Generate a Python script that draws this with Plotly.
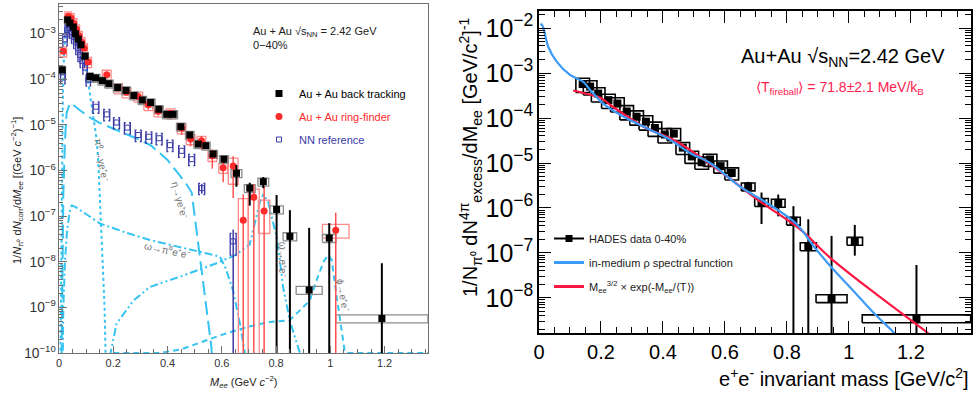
import plotly.graph_objects as go

# ---------------- LEFT PANEL DATA ----------------
# Au + Au back tracking
bt_m = [0.012, 0.032, 0.040, 0.053, 0.061, 0.071, 0.081, 0.096, 0.114, 0.135, 0.160, 0.184, 0.216, 0.247,
        0.276, 0.307, 0.338, 0.368, 0.397, 0.421, 0.449, 0.482, 0.513, 0.541, 0.568, 0.608, 0.654, 0.703,
        0.753, 0.802, 0.851, 0.922, 0.996, 1.19]
bt_y = [1.6e-4, 2.0e-3, 1.7e-3, 1.4e-3, 1.0e-3, 7.6e-4, 5.7e-4, 3.2e-4, 1.15e-4, 1.07e-4, 9.3e-5, 8.0e-5,
        6.6e-5, 5.7e-5, 4.4e-5, 3.5e-5, 3.1e-5, 2.2e-5, 1.7e-5, 1.7e-5, 9.1e-6, 6.0e-6, 3.8e-6, 3.5e-6,
        2.3e-6, 1.77e-6, 8.7e-7, 4.1e-7, 5.7e-7, 1.4e-7, 3.6e-8, 2.4e-9, 3.3e-8, 5.7e-10]
bt_eup = [0]*20 + [7e-7, 5e-7, 3e-7, 3e-7, 2e-7, 3e-7, 4.5e-7, 1.3e-7, 1.5e-7, 1.5e-7, 9.9e-8, 5.3e-8, 3.7e-8, 8.7e-9]
bt_edn = [0]*20 + [7e-7, 5e-7, 3e-7, 3e-7, 2e-7, 3e-7, 4.3e-7, 2.4e-7, 1.6e-7, 1.4e-7, 3.6e-8, 2.4e-9, 3.3e-8, 5.7e-10]
bt_hw = [0.012]*9 + [0.016]*17 + [0.02, 0.02, 0.02, 0.025, 0.025, 0.048, 0.025, 0.17]
bt_sys = [0.2]*34

# Au + Au ring-finder
rf_m = [0.016, 0.034, 0.044, 0.054, 0.064, 0.074, 0.084, 0.093, 0.108, 0.176, 0.218, 0.249, 0.292, 0.329,
        0.366, 0.411, 0.452, 0.485, 0.525, 0.565, 0.605, 0.642, 0.679, 0.718, 0.756, 1.02]
rf_y = [4.1e-4, 2.4e-3, 2.2e-3, 1.7e-3, 1.25e-3, 9.0e-4, 6.5e-4, 4.8e-4, 2.4e-4, 1.26e-4, 6.4e-5, 5.2e-5,
        4.2e-5, 2.75e-5, 2.0e-5, 1.8e-5, 8.5e-6, 4.9e-6, 4.5e-6, 2.1e-6, 1.15e-6, 1.25e-6, 8.1e-8, 2.6e-7,
        1.3e-7, 4.9e-8]
rf_eup = [0]*9 + [1.5e-5, 6e-6, 4e-6, 5e-6, 4e-6, 3e-6, 3e-6, 2e-6, 1.2e-6, 1.2e-6, 8e-7, 5e-7, 8e-7,
                  2.2e-7, 2.4e-7, 3.2e-7, 7e-8]
rf_edn = [0]*9 + [1.5e-5, 6e-6, 4e-6, 5e-6, 6e-6, 4e-6, 3e-6, 2.5e-6, 1.5e-6, 1.5e-6, 1e-6, 6e-7, 1.0e-6,
                  8.1e-8, 2.6e-7, 1.3e-7, 4.9e-8]
rf_hw = [0.012]*9 + [0.016]*12 + [0.018, 0.018, 0.02, 0.021, 0.049]
rf_sup = [0.25]*21 + [0.5, 2.0, 0.5, 0.72, 0.35]
rf_sdn = [0.25]*21 + [0.6, 1.0, 1.0, 0.68, 0.33]

# NN reference
nn_m = [0.014, 0.022, 0.030, 0.038, 0.046, 0.054, 0.062, 0.070, 0.078, 0.086, 0.096, 0.108, 0.136, 0.176,
        0.212, 0.252, 0.292, 0.331, 0.369, 0.409, 0.452, 0.489, 0.526, 0.642]
nn_y = [1.1e-4, 7.5e-4, 1.2e-3, 1.3e-3, 1.1e-3, 8.5e-4, 6.5e-4, 4.8e-4, 3.4e-4, 2.5e-4, 1.8e-4, 9.8e-5,
        2.5e-5, 1.7e-5, 1.13e-5, 8.7e-6, 6.0e-6, 5.5e-6, 5.1e-6, 3.6e-6, 2.7e-6, 1.77e-6, 4.1e-7, 2.8e-8]
nn_eup = [0]*22 + [1e-7, 2.3e-8]
nn_edn = [0]*22 + [1e-7, 2.8e-8]
nn_hw = [0.008]*12 + [0.011]*12
nn_sys = [0.28]*23 + [0.5]

# cocktail curves (cyan)
pi0_m = [0.004, 0.008, 0.011, 0.014, 0.018, 0.024, 0.030, 0.036, 0.045, 0.055, 0.065, 0.075, 0.085, 0.096,
         0.104, 0.112, 0.120, 0.130, 0.139, 0.145, 0.151, 0.160, 0.168, 0.175]
pi0_y = [1e-11, 1e-8, 1e-6, 3e-5, 3e-4, 1.1e-3, 1.6e-3, 1.7e-3, 1.5e-3, 1.2e-3, 8.5e-4, 6e-4, 4e-4, 2.5e-4,
         1.2e-4, 5.5e-5, 2.6e-5, 9e-6, 4.7e-6, 1.5e-6, 2.2e-7, 2e-8, 1e-9, 1e-11]
eta_m = [0.008, 0.012, 0.016, 0.022, 0.028, 0.040, 0.050, 0.077, 0.110, 0.151, 0.225, 0.298, 0.340, 0.372,
         0.400, 0.440, 0.470, 0.489, 0.507, 0.525, 0.544, 0.562, 0.570]
eta_y = [1e-11, 1e-8, 3e-7, 4.7e-6, 1.8e-5, 3.0e-5, 2.8e-5, 2.1e-5, 1.5e-5, 1.1e-5, 7.1e-6, 4.7e-6, 3.5e-6,
         2.4e-6, 1.7e-6, 8.5e-7, 5e-7, 3.3e-7, 5e-8, 7e-9, 9e-10, 1.3e-10, 1e-11]
omd_m = [0.012, 0.016, 0.022, 0.030, 0.040, 0.047, 0.060, 0.100, 0.151, 0.250, 0.335, 0.430, 0.519, 0.593,
         0.615, 0.642, 0.667, 0.685, 0.690]
omd_y = [1e-11, 1e-9, 1e-8, 5e-8, 1.3e-7, 1.7e-7, 1.6e-7, 1.1e-7, 6.9e-8, 4.3e-8, 3e-8, 2.2e-8, 1.66e-8,
         1.3e-8, 7e-9, 2.3e-9, 4.4e-10, 1e-10, 1e-11]
omee_m = [0.185, 0.190, 0.212, 0.274, 0.335, 0.458, 0.581, 0.650, 0.703, 0.720, 0.740, 0.752, 0.770, 0.785,
          0.800, 0.813, 0.826, 0.851, 0.888, 0.900]
omee_y = [1e-11, 1e-10, 4.4e-10, 1.4e-9, 2.8e-9, 5e-9, 9.3e-9, 1.4e-8, 2.4e-8, 6e-8, 2e-7, 2.9e-7, 2.2e-7,
          9e-8, 4e-8, 1.2e-8, 2.8e-9, 5e-10, 1e-10, 1e-11]
phi_m = [0.20, 0.37, 0.45, 0.52, 0.60, 0.70, 0.777, 0.85, 0.924, 0.95, 0.975, 0.992, 1.005, 1.023, 1.041,
         1.053, 1.060, 1.36]
phi_y = [1e-10, 1e-10, 1.2e-10, 1.7e-10, 2.5e-10, 3.8e-10, 4.8e-10, 5.2e-10, 1.4e-9, 4e-9, 1e-8, 1.4e-8,
         1.1e-8, 1.8e-9, 3.7e-10, 1.1e-10, 1e-10, 1e-10]

# ---------------- RIGHT PANEL DATA ----------------
hd_m = [0.141, 0.165, 0.191, 0.224, 0.253, 0.283, 0.315, 0.345, 0.374, 0.406, 0.435, 0.464, 0.493, 0.525,
        0.552, 0.586, 0.622, 0.675, 0.718, 0.772, 0.821, 0.869, 0.944, 1.019, 1.218]
hd_y = [5.7e-4, 5.0e-4, 3.5e-4, 2.5e-4, 2.1e-4, 1.4e-4, 1.07e-4, 8.3e-5, 6.0e-5, 4.3e-5, 4.5e-5, 2.2e-5,
        1.4e-5, 1.04e-5, 1.2e-5, 8.5e-6, 6.0e-6, 3.0e-6, 1.35e-6, 1.3e-6, 5.2e-7, 1.4e-7, 9.8e-9, 1.85e-7, 3.5e-9]
hd_eup = [0]*14 + [1.5e-6, 1.5e-6, 1.2e-6, 8e-7, 8.6e-7, 6.9e-7, 5.8e-7, 4.2e-7, 2.3e-7, 2.35e-7, 5.05e-8]
hd_edn = [0]*14 + [1.5e-6, 1.5e-6, 1.2e-6, 8e-7, 9.1e-7, 6.5e-7, 5.2e-7, 1.4e-7, 9.8e-9, 9.8e-8, 3.5e-9]
hd_hw = [0.022]*21 + [0.026, 0.05, 0.025, 0.175]
hd_sys = [0.35]*10 + [0.3]*7 + [0.2]*8

rho_m = [0.005, 0.012, 0.030, 0.057, 0.100, 0.143, 0.165, 0.207, 0.272, 0.358, 0.423, 0.487, 0.552, 0.648,
         0.735, 0.831, 0.885, 0.939, 1.014, 1.078, 1.143, 1.17]
rho_y = [1.25e-2, 1.1e-2, 3.8e-3, 1.8e-3, 9.1e-4, 6.4e-4, 4.2e-4, 2.1e-4, 1.08e-4, 5.5e-5, 3.3e-5, 1.67e-5,
         1.0e-5, 3.0e-6, 1.3e-6, 4.4e-7, 1.45e-7, 5.2e-8, 1.45e-8, 4.8e-9, 1.75e-9, 1.1e-9]
fit_m = [0.11, 0.165, 0.20, 0.23, 0.336, 0.444, 0.605, 0.713, 0.842, 0.939, 1.10, 1.25, 1.27]
fit_y = [4.1e-4, 3.3e-4, 2.8e-4, 1.96e-4, 6.5e-5, 3.0e-5, 5.1e-6, 1.4e-6, 3.4e-7, 7.9e-8, 1.05e-8, 1.75e-9, 1.35e-9]

# ---------------- helpers ----------------
def boxes(xc, yc, hw, up, dn):
    xs, ys = [], []
    for x, y, w, u, d in zip(xc, yc, hw, up, dn):
        y0 = y * (1 - min(d, 0.9999))
        y1 = y * (1 + u)
        xs += [x - w, x + w, x + w, x - w, x - w, None]
        ys += [y0, y0, y1, y1, y0, None]
    return xs, ys

def brackets(xc, yc, hw, rel):
    xs, ys = [], []
    for x, y, w, r in zip(xc, yc, hw, rel):
        y0, y1 = y * (1 - r), y * (1 + r)
        s = w * 0.45
        xs += [x - w + s, x - w, x - w, x - w + s, None, x + w - s, x + w, x + w, x + w - s, None]
        ys += [y1, y1, y0, y0, None, y1, y1, y0, y0, None]
    return xs, ys

def clamp(err, yv):
    return [min(e, 0.9999 * y) for e, y in zip(err, yv)]

W, H = 976, 394
def PX(p):
    return p / W
def PY(p):
    return 1 - p / H

FONT = "Liberation Sans, Arial, sans-serif"
CYAN = "#35c4f2"
RED = "#ff2a2a"
NAVY = "#3a3aa6"

fig = go.Figure()

# --- left: cocktail curves
fig.add_trace(go.Scatter(x=pi0_m, y=pi0_y, mode="lines", line=dict(color=CYAN, width=2, dash="dot"),
                         showlegend=False, xaxis="x", yaxis="y", hoverinfo="skip"))
fig.add_trace(go.Scatter(x=eta_m, y=eta_y, mode="lines", line=dict(color=CYAN, width=2, dash="14px,6px"),
                         showlegend=False, xaxis="x", yaxis="y", hoverinfo="skip"))
fig.add_trace(go.Scatter(x=omd_m, y=omd_y, mode="lines", line=dict(color=CYAN, width=2, dash="8px,3px,2px,3px"),
                         showlegend=False, xaxis="x", yaxis="y", hoverinfo="skip"))
fig.add_trace(go.Scatter(x=omee_m, y=omee_y, mode="lines",
                         line=dict(color=CYAN, width=2, dash="8px,3px,2px,3px,2px,3px"),
                         showlegend=False, xaxis="x", yaxis="y", hoverinfo="skip"))
fig.add_trace(go.Scatter(x=phi_m, y=phi_y, mode="lines", line=dict(color=CYAN, width=2, dash="6px,4px"),
                         showlegend=False, xaxis="x", yaxis="y", hoverinfo="skip"))

# --- left: systematic boxes
bx, by = boxes(rf_m, rf_y, rf_hw, rf_sup, rf_sdn)
fig.add_trace(go.Scatter(x=bx, y=by, mode="lines", line=dict(color="#ff8a8a", width=1.3),
                         showlegend=False, xaxis="x", yaxis="y", hoverinfo="skip"))
bx, by = boxes(bt_m, bt_y, bt_hw, bt_sys, bt_sys)
fig.add_trace(go.Scatter(x=bx, y=by, mode="lines", line=dict(color="#8c8c8c", width=1.3),
                         showlegend=False, xaxis="x", yaxis="y", hoverinfo="skip"))
bx, by = brackets(nn_m, nn_y, nn_hw, nn_sys)
fig.add_trace(go.Scatter(x=bx, y=by, mode="lines", line=dict(color=NAVY, width=1.3),
                         showlegend=False, xaxis="x", yaxis="y", hoverinfo="skip"))

# --- left: data points
fig.add_trace(go.Scatter(
    x=nn_m, y=nn_y, mode="markers", name=f"<span style='color:{NAVY}'>NN reference</span>",
    marker=dict(symbol="square-open", size=5, color=NAVY, line=dict(width=1)),
    error_y=dict(type="data", array=nn_eup, arrayminus=clamp(nn_edn, nn_y), color=NAVY, thickness=1.5, width=0),
    xaxis="x", yaxis="y", legend="legend", legendrank=3, legendgroup="nn"))
fig.add_trace(go.Scatter(
    x=rf_m, y=rf_y, mode="markers", name=f"<span style='color:{RED}'>Au + Au ring-finder</span>",
    marker=dict(symbol="circle", size=7, color=RED),
    error_y=dict(type="data", array=rf_eup, arrayminus=clamp(rf_edn, rf_y), color="#ff5050", thickness=1.5, width=0),
    xaxis="x", yaxis="y", legend="legend", legendrank=2, legendgroup="rf"))
fig.add_trace(go.Scatter(
    x=bt_m, y=bt_y, mode="markers", name="Au + Au back tracking",
    marker=dict(symbol="square", size=7, color="black"),
    error_y=dict(type="data", array=bt_eup, arrayminus=clamp(bt_edn, bt_y), color="black", thickness=2, width=0),
    xaxis="x", yaxis="y", legend="legend", legendrank=1, legendgroup="bt"))

# --- right panel
bx, by = boxes(hd_m, hd_y, hd_hw, hd_sys, hd_sys)
fig.add_trace(go.Scatter(x=bx, y=by, mode="lines", line=dict(color="black", width=1.6),
                         showlegend=False, xaxis="x2", yaxis="y2", hoverinfo="skip"))
fig.add_trace(go.Scatter(
    x=hd_m, y=hd_y, mode="markers", showlegend=False,
    marker=dict(symbol="square", size=8, color="black"),
    error_y=dict(type="data", array=hd_eup, arrayminus=clamp(hd_edn, hd_y), color="black", thickness=2, width=0),
    xaxis="x2", yaxis="y2"))
fig.add_trace(go.Scatter(x=fit_m, y=fit_y, mode="lines", line=dict(color="#ff1744", width=2.2, shape="spline"),
                         showlegend=False, xaxis="x2", yaxis="y2"))
fig.add_trace(go.Scatter(x=rho_m, y=rho_y, mode="lines", line=dict(color="#3d9bf5", width=2.2, shape="spline"),
                         showlegend=False, xaxis="x2", yaxis="y2"))
# legend entries for right panel
fig.add_trace(go.Scatter(x=[None], y=[None], mode="lines+markers", name="HADES data 0-40%",
                         line=dict(color="black", width=2), marker=dict(symbol="square", size=7, color="black"),
                         xaxis="x2", yaxis="y2", legend="legend2", legendrank=1, legendgroup="hd"))
fig.add_trace(go.Scatter(x=[None], y=[None], mode="lines", name="in-medium ρ spectral function",
                         line=dict(color="#3d9bf5", width=3), xaxis="x2", yaxis="y2", legend="legend2",
                         legendrank=2, legendgroup="rho"))
fig.add_trace(go.Scatter(x=[None], y=[None], mode="lines",
                         name="M<sub>ee</sub><sup>3/2</sup> × exp(-M<sub>ee</sub>/⟨T⟩)",
                         line=dict(color="#ff1744", width=3), xaxis="x2", yaxis="y2", legend="legend2",
                         legendrank=3, legendgroup="fit"))

GRAYAX = "#707070"
left_tick = dict(family=FONT, size=11, color="#333333")
right_tick = dict(family=FONT, size=20, color="black")

annotations = [
    # left panel texts
    dict(text="Au + Au √s<sub>NN</sub> = 2.42 GeV",
         x=PX(251), y=PY(32), xref="paper", yref="paper", xanchor="left", yanchor="middle", showarrow=False,
         font=dict(family=FONT, size=11, color="#222")),
    dict(text="0−40%", x=PX(251), y=PY(45), xref="paper", yref="paper", xanchor="left", yanchor="middle",
         showarrow=False, font=dict(family=FONT, size=11, color="#222")),
    dict(text="<i>M</i><sub><i>ee</i></sub> (GeV <i>c</i><sup>−2</sup>)", x=PX(243), y=PY(382),
         xref="paper", yref="paper", xanchor="center", yanchor="middle", showarrow=False,
         font=dict(family=FONT, size=11, color="#222")),
    dict(text="1/<i>N</i><sub>π⁰</sub> d<i>N</i><sub>corr</sub>/d<i>M</i><sub><i>ee</i></sub> [(GeV <i>c</i><sup>−2</sup>)<sup>−1</sup>]",
         x=PX(17), y=PY(191), xref="paper", yref="paper", xanchor="center", yanchor="middle", textangle=-90,
         showarrow=False, font=dict(family=FONT, size=11, color="#222")),
    # curve labels
    dict(text="π⁰→γe⁺e⁻", x=0.158, y=-5.77, xref="x", yref="y", textangle=80, showarrow=False,
         font=dict(family=FONT, size=10, color="#777")),
    dict(text="η→γe⁺e⁻", x=0.446, y=-6.65, xref="x", yref="y", textangle=75, showarrow=False,
         font=dict(family=FONT, size=10, color="#777")),
    dict(text="ω→π⁰e⁺e⁻", x=0.40, y=-7.75, xref="x", yref="y", textangle=12, showarrow=False,
         font=dict(family=FONT, size=10, color="#777")),
    dict(text="ω→e⁺e⁻", x=0.825, y=-7.95, xref="x", yref="y", textangle=90, showarrow=False,
         font=dict(family=FONT, size=10, color="#777")),
    dict(text="ϕ→e⁺e⁻", x=1.046, y=-8.74, xref="x", yref="y", textangle=80, showarrow=False,
         font=dict(family=FONT, size=10, color="#777")),
    # right panel texts
    dict(text="Au+Au √s<sub>NN</sub>=2.42 GeV", x=PX(843), y=PY(57), xref="paper", yref="paper",
         xanchor="center", yanchor="middle", showarrow=False, font=dict(family=FONT, size=20, color="black")),
    dict(text="⟨T<sub>fireball</sub>⟩ = 71.8±2.1 MeV/k<sub>B</sub>", x=PX(840), y=PY(88), xref="paper",
         yref="paper", xanchor="center", yanchor="middle", showarrow=False,
         font=dict(family=FONT, size=14, color="#ff2050")),
    dict(text="e<sup>+</sup>e<sup>-</sup> invariant mass [GeV/c<sup>2</sup>]", x=PX(971), y=PY(377),
         xref="paper", yref="paper", xanchor="right", yanchor="middle", showarrow=False,
         font=dict(family=FONT, size=20, color="black")),
    dict(text="1/N<sub>π⁰</sub> dN<sup>4π</sup><sub>excess</sub>/dM<sub>ee</sub> [GeV/c<sup>2</sup>]<sup>-1</sup>",
         x=PX(471), y=PY(157), xref="paper", yref="paper", xanchor="center", yanchor="middle", textangle=-90,
         showarrow=False, font=dict(family=FONT, size=20, color="black")),
]

fig.update_layout(
    width=W, height=H, margin=dict(l=0, r=0, t=0, b=0, autoexpand=False),
    paper_bgcolor="white", plot_bgcolor="white",
    font=dict(family=FONT),
    xaxis=dict(domain=[PX(59), PX(428)], range=[0, 1.36], anchor="y", showgrid=False, zeroline=False,
               automargin=False,
               showline=True, linecolor=GRAYAX, linewidth=1, mirror=True,
               ticks="inside", ticklen=7, tickcolor=GRAYAX, dtick=0.2, tick0=0, tickfont=left_tick,
               minor=dict(ticks="inside", ticklen=4, dtick=0.05, tickcolor=GRAYAX, showgrid=False)),
    yaxis=dict(domain=[PY(353), PY(4)], type="log", range=[-10, -2.35], anchor="x", showgrid=False,
               automargin=False,
               zeroline=False, showline=True, linecolor=GRAYAX, linewidth=1, mirror=True,
               ticks="inside", ticklen=8, tickcolor=GRAYAX, dtick=1, exponentformat="power",
               tickfont=left_tick,
               minor=dict(ticks="inside", ticklen=4, dtick="D1", tickcolor=GRAYAX, showgrid=False)),
    xaxis2=dict(domain=[PX(539), PX(971)], range=[0, 1.394], anchor="y2", showgrid=False, zeroline=False,
                automargin=False,
                showline=True, linecolor="black", linewidth=1.5, mirror="allticks",
                ticks="inside", ticklen=12, tickcolor="black", tickwidth=1.2, dtick=0.2, tick0=0,
                tickfont=right_tick,
                minor=dict(ticks="inside", ticklen=6, dtick=0.05, tickcolor="black", showgrid=False)),
    yaxis2=dict(domain=[PY(333), PY(11)], type="log", range=[-8.78, -1.62], anchor="x2", showgrid=False,
                automargin=False,
                zeroline=False, showline=True, linecolor="black", linewidth=1.5, mirror="allticks",
                ticks="inside", ticklen=12, tickcolor="black", tickwidth=1.2, dtick=1, exponentformat="power",
                tickfont=right_tick,
                minor=dict(ticks="inside", ticklen=6, dtick="D1", tickcolor="black", showgrid=False)),
    legend=dict(x=PX(259), y=PY(79), xanchor="left", yanchor="top", bgcolor="rgba(0,0,0,0)",
                font=dict(family=FONT, size=11, color="black"), traceorder="grouped", itemwidth=30,
                tracegroupgap=4),
    legend2=dict(x=PX(549), y=PY(224), xanchor="left", yanchor="top", bgcolor="rgba(0,0,0,0)",
                 font=dict(family=FONT, size=11, color="#222"), traceorder="grouped", itemwidth=30,
                 tracegroupgap=5),
    annotations=annotations,
)

fig.write_html("out.html", config={"displayModeBar": False},
               post_script="document.body.style.margin='0px';")
